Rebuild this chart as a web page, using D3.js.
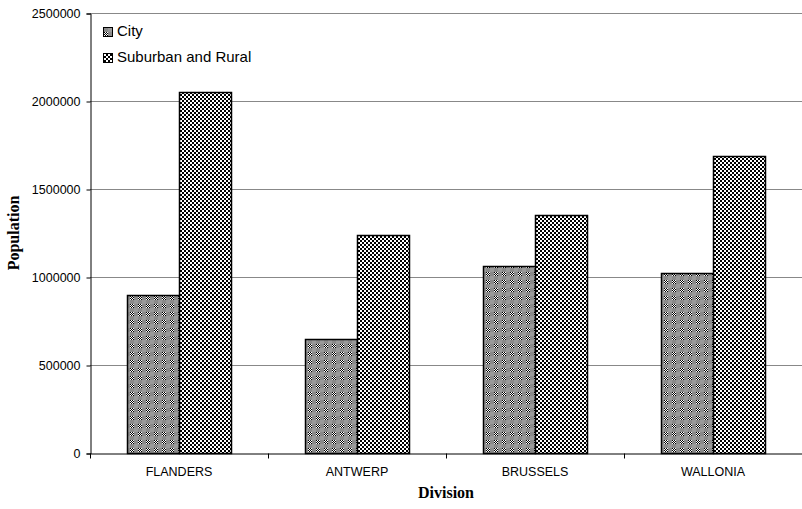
<!DOCTYPE html>
<html><head><meta charset="utf-8">
<script src="https://cdn.jsdelivr.net/npm/d3@7"></script>
<style>html,body{margin:0;padding:0;background:#fff;}</style>
</head><body>
<svg id="c" width="802" height="509"></svg>
<script>
const categories = ["FLANDERS", "ANTWERP", "BRUSSELS", "WALLONIA"];
const seriesNames = ["City", "Suburban and Rural"];
const cityValues = [900000, 645000, 1065000, 1020000];
const suburbanValues = [2050000, 1240000, 1355000, 1690000];
const yTicks = [0, 500000, 1000000, 1500000, 2000000, 2500000];

const svg = d3.select("#c");
const M = {left: 90, right: 802, top: 13, bottom: 453};

const defs = svg.append("defs");
// City pattern: gray with small checker patches
const p1 = defs.append("pattern").attr("id","pCity").attr("patternUnits","userSpaceOnUse")
  .attr("width",8).attr("height",8);
p1.append("rect").attr("width",8).attr("height",8).attr("fill","#8a8a8a");
for (let i=0;i<4;i++) for (let j=0;j<4;j++) {
  p1.append("rect").attr("x",i).attr("y",j).attr("width",1).attr("height",1)
    .attr("fill", (i+j)%2 ? "#fff" : "#000");
}
p1.append("rect").attr("x",4).attr("y",4).attr("width",4).attr("height",4).attr("fill","#9a9a9a");
// Suburban pattern: checkerboard
const p2 = defs.append("pattern").attr("id","pSub").attr("patternUnits","userSpaceOnUse")
  .attr("width",4).attr("height",4);
p2.append("rect").attr("width",4).attr("height",4).attr("fill","#fff");
p2.append("rect").attr("x",0).attr("y",0).attr("width",2).attr("height",2).attr("fill","#000");
p2.append("rect").attr("x",2).attr("y",2).attr("width",2).attr("height",2).attr("fill","#000");

const y = d3.scaleLinear().domain([0, 2500000]).range([M.bottom, M.top]);
const x0 = d3.scaleBand().domain(categories).range([M.left, M.right]).paddingInner(0).paddingOuter(0);
const x1 = d3.scaleBand().domain(seriesNames).range([0, x0.bandwidth()]).paddingInner(0).paddingOuter(0.712);

// gridlines
svg.append("g").selectAll("line").data(yTicks.filter(d=>d>0)).join("line")
  .attr("x1", M.left).attr("x2", M.right)
  .attr("y1", d=>Math.round(y(d))+0.5).attr("y2", d=>Math.round(y(d))+0.5)
  .attr("stroke", "#888").attr("stroke-width", 1);

// y axis
const yAxis = d3.axisLeft(y).tickValues(yTicks).tickSize(4).tickPadding(6).tickFormat(d3.format("d"));
const gy = svg.append("g").attr("transform", `translate(${M.left+0.5},0.5)`).call(yAxis);
gy.select(".domain").attr("stroke","#000");
gy.selectAll("text").attr("font-family","Liberation Sans, Arial, sans-serif").attr("font-size","12.5px").attr("fill","#000");

// bars
const data = categories.map((c,i)=>({cat:c, vals:[cityValues[i], suburbanValues[i]]}));
const groups = svg.append("g").selectAll("g").data(data).join("g")
  .attr("transform", d=>`translate(${x0(d.cat)},0)`);
groups.selectAll("rect").data(d=>d.vals.map((v,k)=>({v, s:seriesNames[k], k}))).join("rect")
  .attr("x", d=>Math.round(x1(d.s))+0.5)
  .attr("y", d=>Math.round(y(d.v))+0.5)
  .attr("width", Math.round(x1.bandwidth()))
  .attr("height", d=>Math.round(y(0))-Math.round(y(d.v)))
  .attr("fill", d=>d.k===0 ? "url(#pCity)" : "url(#pSub)")
  .attr("stroke","#000").attr("stroke-width",1.5);

// x axis
const xAxis = d3.axisBottom(x0).tickSize(0).tickPadding(14);
const gx = svg.append("g").attr("transform", `translate(0,${M.bottom+0.5})`).call(xAxis);
gx.select(".domain").attr("stroke","#000");
gx.selectAll("text").attr("font-family","Liberation Sans, Arial, sans-serif").attr("font-size","12.5px").attr("fill","#000");
// category boundary ticks
gx.append("g").selectAll("line").data(categories.slice(1)).join("line")
  .attr("x1", d=> Math.round(x0(d))+0.5)
  .attr("x2", d=> Math.round(x0(d))+0.5)
  .attr("y1",0).attr("y2",5).attr("stroke","#000");
gx.append("line").attr("x1",M.left+0.5).attr("x2",M.left+0.5).attr("y1",0).attr("y2",5).attr("stroke","#000");

// axis titles
svg.append("text").attr("x", (M.left+M.right)/2).attr("y", 498).attr("text-anchor","middle")
  .attr("font-family","Liberation Serif, Times New Roman, serif").attr("font-weight","bold").attr("font-size","16px")
  .text("Division");
svg.append("text").attr("transform", `translate(19,${(M.top+M.bottom)/2}) rotate(-90)`).attr("text-anchor","middle")
  .attr("font-family","Liberation Serif, Times New Roman, serif").attr("font-weight","bold").attr("font-size","16px")
  .text("Population");

// legend
const lg = svg.append("g");
seriesNames.forEach((s,k)=>{
  const yy = 36 + k*26;
  lg.append("rect").attr("x",103.5).attr("y",yy-8.5).attr("width",9).attr("height",9)
    .attr("fill", k===0 ? "url(#pCity)" : "url(#pSub)").attr("stroke","#000").attr("stroke-width",1);
  lg.append("text").attr("x",117).attr("y",yy).attr("font-family","Liberation Sans, Arial, sans-serif")
    .attr("font-size","15px").attr("fill","#000").text(s);
});
</script>
</body></html>
